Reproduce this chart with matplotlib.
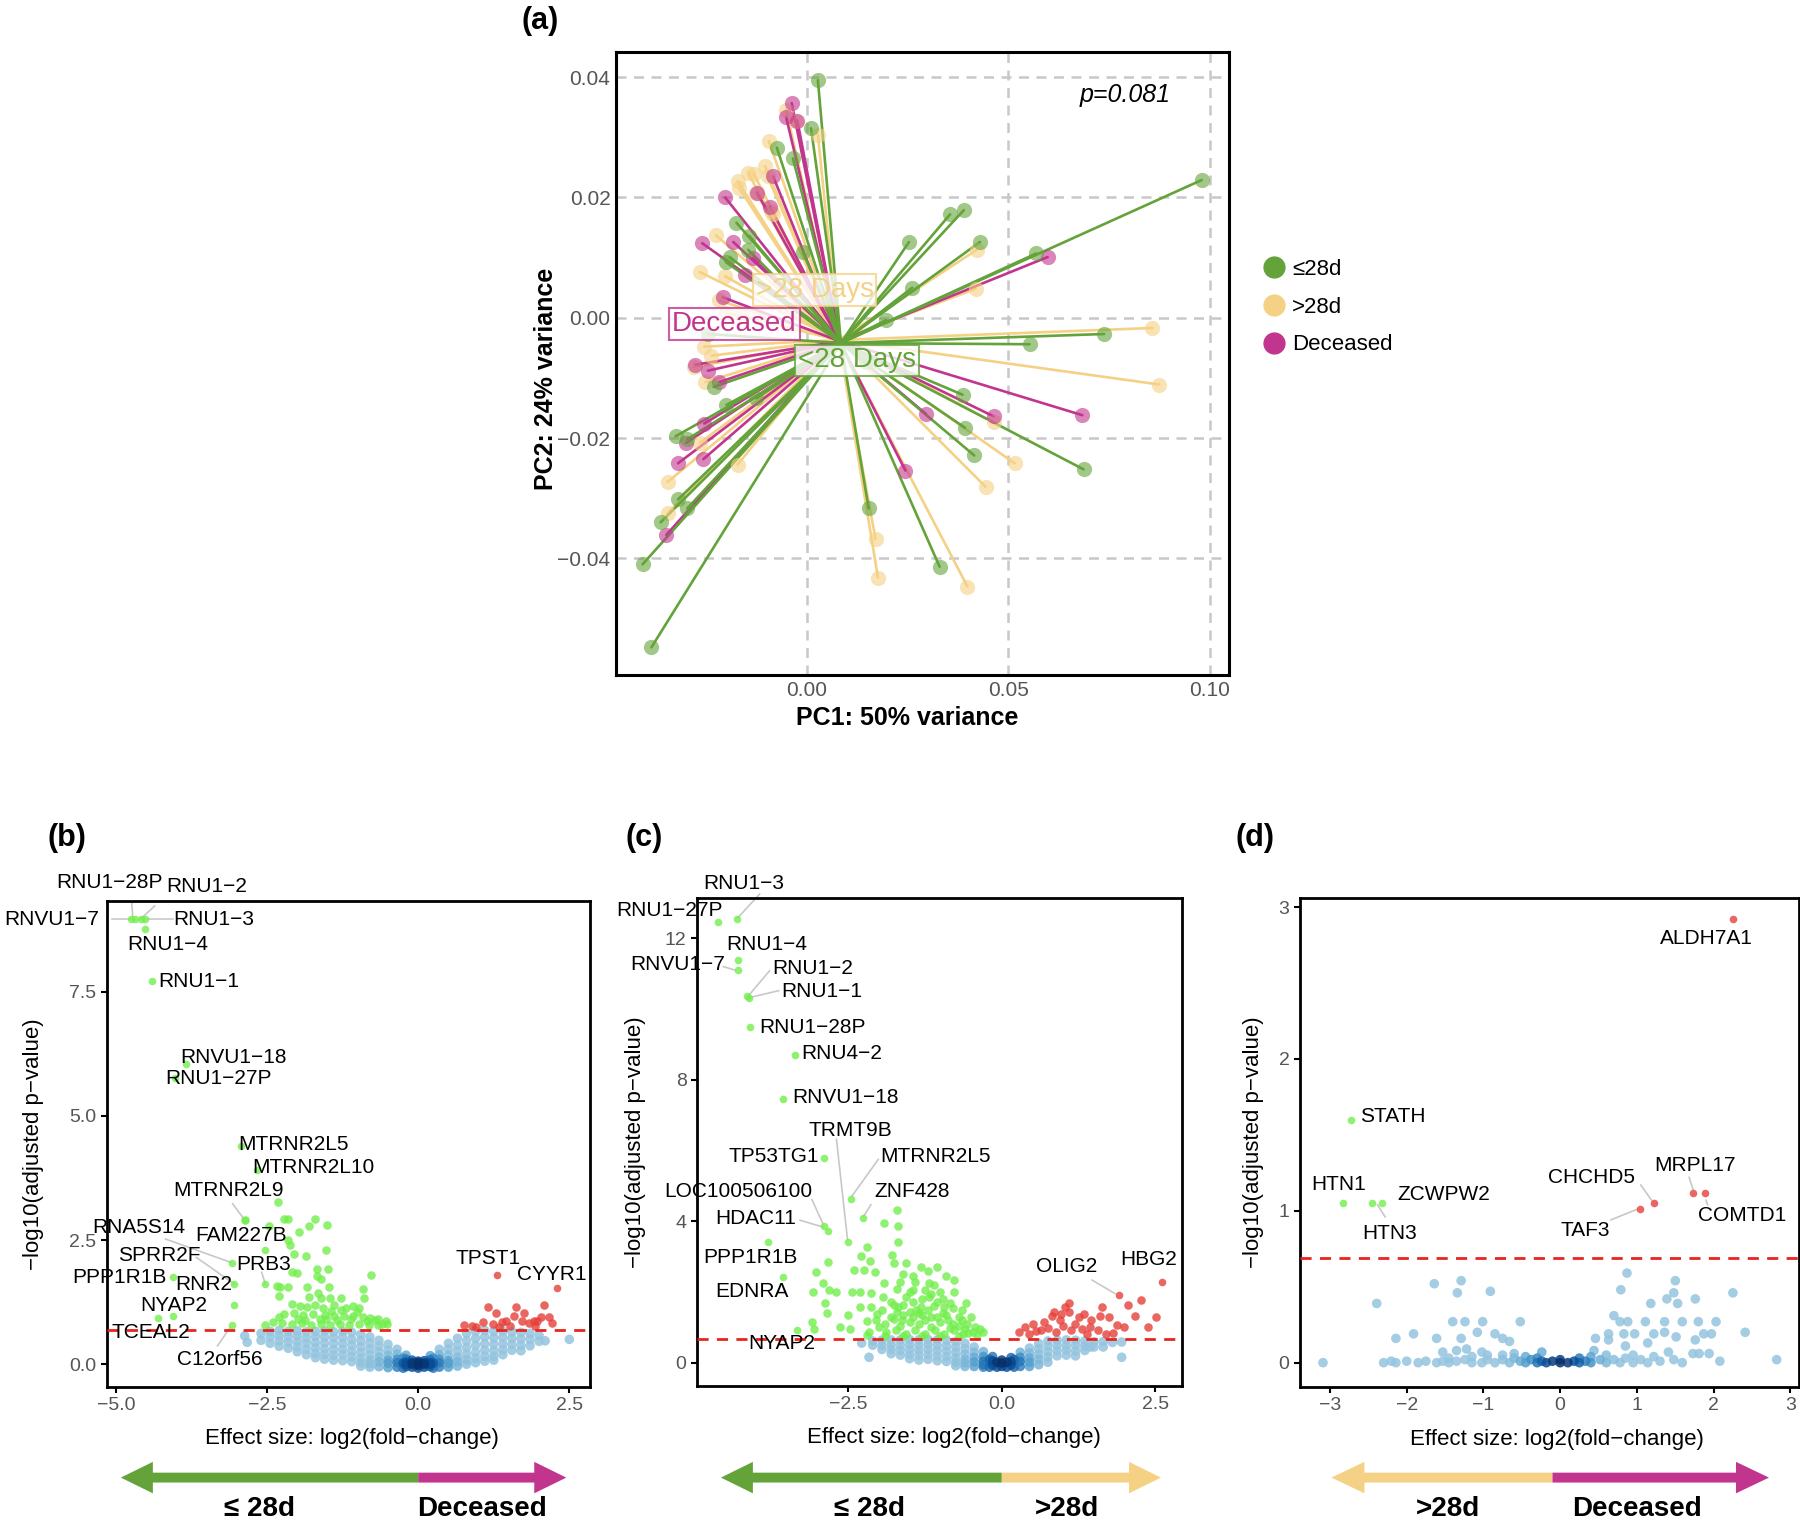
import numpy as np
import matplotlib
matplotlib.use("Agg")
import matplotlib.pyplot as plt
from matplotlib.patches import FancyArrow
from matplotlib.lines import Line2D

plt.rcParams['font.family'] = ['Liberation Sans', 'DejaVu Sans']

GREEN = '#63a33a'
YELLOW = '#f5d185'
MAGENTA = '#c2358e'
SIG_GREEN = '#72ee4c'
SIG_RED = '#e5403a'
GREY = '#555555'
M = '\u2212'

### (a) PCA data: samples per group, and group centroids
le28_x = [0.0028, 0.0011, -0.0074, -0.0034, -0.0174, -0.0142, -0.0145, -0.0191, -0.0199, -0.0009,
          0.0356, 0.0390, 0.0254, 0.0430, 0.0570, 0.0980, 0.0262, 0.0197, 0.0553, 0.0738,
          0.0387, 0.0393, 0.0416, 0.0687, 0.0330, 0.0154, -0.0407, -0.0385, -0.0362, -0.0319,
          -0.0296, -0.0325, -0.0296, -0.0231, -0.0199, -0.0125, -0.0245, 0.0148]
le28_y = [0.0395, 0.0315, 0.0283, 0.0265, 0.0158, 0.0136, 0.0113, 0.0101, 0.0092, 0.0109,
          0.0172, 0.0179, 0.0126, 0.0126, 0.0107, 0.0229, 0.0050, -0.0004, -0.0044, -0.0027,
          -0.0128, -0.0183, -0.0229, -0.0252, -0.0414, -0.0317, -0.0410, -0.0548, -0.0340, -0.0302,
          -0.0317, -0.0197, -0.0202, -0.0115, -0.0145, -0.0134, -0.0027, -0.0073]
gt28_x = [-0.0051, -0.0026, 0.0028, -0.0094, -0.0103, -0.0145, -0.0131, -0.0171, -0.0168, -0.0097,
          -0.0125, -0.0088, -0.0083, -0.0225, -0.0265, -0.0202, -0.0217, -0.0199, -0.0162, -0.0254,
          -0.0251, -0.0171, -0.0345, -0.0345, -0.0265, 0.0171, 0.0177, 0.0422, 0.0419, 0.0858,
          0.0875, 0.0464, 0.0516, 0.0444, 0.0399, -0.0279, -0.0236]
gt28_y = [0.0346, 0.0328, 0.0304, 0.0294, 0.0252, 0.0241, 0.0239, 0.0227, 0.0216, 0.0235,
          0.0208, 0.0178, 0.0172, 0.0137, 0.0076, 0.0069, 0.0029, 0.0008, 0.0004, -0.0048,
          -0.0107, -0.0244, -0.0273, -0.0325, -0.0208, -0.0368, -0.0432, 0.0113, 0.0048, -0.0017,
          -0.0111, -0.0174, -0.0242, -0.0281, -0.0447, -0.0082, -0.0063]
dec_x = [-0.0037, -0.0051, -0.0023, -0.0083, -0.0123, -0.0202, -0.0091, -0.0259, -0.0182, -0.0154,
         -0.0208, -0.0276, -0.0245, -0.0217, -0.0254, -0.0299, -0.0319, -0.0256, -0.0348, 0.0245,
         0.0598, 0.0684, 0.0464, 0.0296, -0.0134]
dec_y = [0.0357, 0.0334, 0.0328, 0.0235, 0.0208, 0.0200, 0.0185, 0.0124, 0.0126, 0.0071,
         0.0034, -0.0078, -0.0088, -0.0107, -0.0176, -0.0208, -0.0242, -0.0235, -0.0361, -0.0254,
         0.0101, -0.0162, -0.0164, -0.0160, 0.0099]
cent_x = [0.0085, 0.0080, 0.0082]   # <=28d, >28d, Deceased
cent_y = [-0.0042, -0.0037, -0.0039]
grp_names = ['\u226428d', '>28d', 'Deceased']
grp_tags = ['<28 Days', '>28 Days', 'Deceased']
tag_x = [0.0125, 0.0020, -0.0179]
tag_y = [-0.0071, 0.0046, -0.0010]

### (b) <=28d vs Deceased
b_ns_cx = [-2.87, -2.83, -2.6, -2.45, -2.3, -2.15, -2.0, -1.85, -1.7, -1.55, -1.4, -1.25, -1.1, -0.95,
           -0.8, -0.65, -0.5, -0.35, -0.25, -0.2, -0.1, 0.0, 0.1, 0.2, 0.25, 0.35, 0.5, 0.65, 0.8, 0.95,
           1.1, 1.25, 1.4, 1.55, 1.7, 1.85, 2.0, 2.1, 2.5]
b_ns_cy = [[0.57], [0.44], [0.62, 0.48], [0.66, 0.55, 0.42], [0.68, 0.58, 0.47, 0.36],
           [0.66, 0.55, 0.44, 0.32], [0.67, 0.57, 0.46, 0.35, 0.25], [0.65, 0.53, 0.42, 0.30, 0.19],
           [0.66, 0.56, 0.44, 0.33, 0.22, 0.13], [0.67, 0.55, 0.43, 0.31, 0.20, 0.10],
           [0.65, 0.53, 0.41, 0.29, 0.18, 0.08], [0.66, 0.54, 0.42, 0.30, 0.19, 0.07],
           [0.64, 0.50, 0.38, 0.26, 0.15, 0.05], [0.60, 0.47, 0.35, 0.23, 0.12, 0.03, -0.04],
           [0.55, 0.42, 0.30, 0.19, 0.08, 0.01, -0.06], [0.48, 0.36, 0.25, 0.14, 0.05, -0.05],
           [0.40, 0.28, 0.18, 0.08, 0.02, -0.07], [0.30, 0.20, 0.10, 0.03, -0.06], [0.12, 0.02, -0.08],
           [0.18, 0.10, 0.04, 0.0, -0.05], [0.08, 0.03, 0.0, -0.06], [0.0, 0.03, 0.06, -0.03, -0.08],
           [0.07, 0.02, 0.0, -0.06], [0.17, 0.09, 0.03, 0.0, -0.05], [0.12, 0.02, -0.08],
           [0.30, 0.19, 0.10, 0.03, -0.06], [0.42, 0.30, 0.18, 0.07, 0.02, -0.06],
           [0.52, 0.38, 0.26, 0.14, 0.05, -0.04], [0.62, 0.47, 0.33, 0.20, 0.09, 0.0],
           [0.66, 0.52, 0.38, 0.24, 0.12, 0.03], [0.68, 0.55, 0.41, 0.28, 0.16, 0.06],
           [0.66, 0.53, 0.40, 0.27, 0.16, 0.08], [0.67, 0.54, 0.41, 0.29, 0.19], [0.65, 0.52, 0.40, 0.28],
           [0.64, 0.51, 0.38, 0.27], [0.62, 0.50, 0.37], [0.58, 0.46], [0.47], [0.50]]
b_dn_x = [-2.87, -2.32, -2.47, -2.22, -2.15, -1.80, -1.70, -1.51, -1.97, -2.15, -2.12, -1.53, -2.06,
          -1.85, -1.68, -1.49, -2.08, -2.00, -1.68, -1.61, -0.78, -2.34, -2.28, -2.15, -1.84, -1.47,
          -0.92, -0.89, -2.31, -1.80, -1.65, -1.61, -1.46, -1.27, -2.09, -1.96, -1.84, -1.71, -1.58,
          -1.39, -1.20, -1.08, -0.98, -2.22, -2.06, -1.90, -1.74, -1.55, -1.39, -1.23, -1.08, -0.92,
          -0.79, -0.66, -0.54, -2.53, -2.41, -2.25, -2.09, -1.93, -1.77, -1.61, -1.46, -1.30, -1.14,
          -0.98, -0.82, -0.66, -0.51, -1.99, -1.52, -1.88, -1.62, -1.35, -1.12, -0.85, -0.72, -1.45,
          -1.28, -1.02, -0.60, -2.30]
b_dn_y = [2.91, 3.27, 2.79, 2.92, 2.92, 2.79, 2.92, 2.81, 2.67, 2.50, 2.40, 2.30, 2.22, 2.18, 1.92,
          1.92, 1.85, 1.83, 1.78, 1.71, 1.79, 1.58, 1.56, 1.55, 1.55, 1.56, 1.51, 1.34, 1.38, 1.36,
          1.44, 1.34, 1.34, 1.34, 1.21, 1.18, 1.16, 1.20, 1.14, 1.20, 1.14, 1.18, 1.14, 1.01, 1.04,
          0.99, 1.01, 0.99, 0.97, 0.96, 0.97, 0.94, 0.92, 0.91, 0.87, 0.79, 0.84, 0.82, 0.81, 0.82,
          0.79, 0.81, 0.79, 0.81, 0.79, 0.81, 0.79, 0.79, 0.81, 0.91, 0.91, 0.88, 0.90, 0.88, 0.90,
          0.86, 0.88, 1.08, 1.10, 1.05, 0.80, 0.95]
b_up_x = [1.15, 1.62, 2.08, 1.28, 1.59, 1.75, 1.91, 2.03, 2.17, 2.22, 0.75, 0.95, 1.08, 1.23, 1.39,
          1.52, 1.71, 1.84, 1.96, 0.89, 1.33, 1.93, 1.46]
b_up_y = [1.16, 1.16, 1.20, 1.03, 0.97, 1.04, 0.87, 0.95, 0.94, 0.83, 0.79, 0.74, 0.84, 0.81, 0.84,
          0.77, 0.87, 0.82, 0.86, 0.77, 0.74, 0.77, 0.87]
b_genes = ['RNU1\u221228P', 'RNVU1\u22127', 'RNU1\u22123', 'RNU1\u22122', 'RNU1\u22124', 'RNU1\u22121',
           'RNVU1\u221218', 'RNU1\u221227P', 'MTRNR2L5', 'MTRNR2L10', 'MTRNR2L9', 'RNA5S14', 'FAM227B',
           'SPRR2F', 'PRB3', 'PPP1R1B', 'RNR2', 'NYAP2', 'TCEAL2', 'C12orf56', 'TPST1', 'CYYR1']
b_gene_x = [-4.75, -4.68, -4.52, -4.58, -4.52, -4.41, -3.84, -4.03, -2.93, -2.66, -2.87, -3.08, -2.53,
            -3.04, -2.53, -4.05, -3.05, -4.05, -4.30, -3.08, 1.30, 2.29]
b_gene_y = [8.96, 8.96, 8.96, 8.96, 8.77, 7.71, 6.04, 5.76, 4.40, 3.91, 2.91, 2.04, 2.30, 1.61, 1.61,
            1.75, 1.19, 0.96, 0.93, 0.79, 1.79, 1.53]

### (c) <=28d vs >28d
c_ns_cx = [-2.28, -2.16, -2.1, -1.95, -1.8, -1.65, -1.5, -1.35, -1.2, -1.05, -0.9, -0.75, -0.6, -0.45,
           -0.3, -0.2, -0.15, -0.08, 0.0, 0.08, 0.15, 0.2, 0.3, 0.45, 0.6, 0.75, 0.9, 1.05, 1.2, 1.35,
           1.44, 1.5, 1.65, 1.8, 1.95]
c_ns_cy = [[0.56], [0.16], [0.62, 0.50], [0.64, 0.50, 0.38], [0.65, 0.52, 0.38, 0.26],
           [0.65, 0.50, 0.36, 0.22], [0.66, 0.52, 0.38, 0.24, 0.12], [0.65, 0.50, 0.36, 0.22, 0.08],
           [0.66, 0.52, 0.38, 0.24, 0.10], [0.65, 0.50, 0.35, 0.20, 0.06], [0.64, 0.48, 0.33, 0.18, 0.04],
           [0.60, 0.45, 0.30, 0.15, 0.02, -0.08], [0.55, 0.40, 0.25, 0.10, 0.0, -0.1],
           [0.45, 0.30, 0.16, 0.03, -0.1], [0.32, 0.18, 0.05, -0.05, -0.12], [0.1, -0.12],
           [0.18, 0.06, -0.06], [0.02, -0.12], [-0.10, 0.0, 0.08], [0.02, -0.12], [0.15, 0.04, -0.06],
           [0.1, -0.12], [0.30, 0.16, 0.04, -0.1], [0.42, 0.28, 0.14, 0.02, -0.1],
           [0.55, 0.40, 0.25, 0.10, -0.05], [0.62, 0.47, 0.32, 0.17, 0.02], [0.64, 0.50, 0.35, 0.20],
           [0.65, 0.50, 0.36, 0.22], [0.64, 0.50, 0.34, 0.20], [0.62, 0.48, 0.35], [0.45], [0.60, 0.45],
           [0.60, 0.45], [0.58], [0.16, 0.59]]
c_dn_x = [-1.70, -1.91, -1.69, -1.69, -2.20, -2.29, -2.14, -2.83, -3.02, -1.78, -1.75, -1.56, -1.31,
          -1.06, -2.41, -2.25, -2.06, -2.91, -2.81, -2.69, -3.08, -2.88, -2.84, -2.44, -2.31, -2.13,
          -1.91, -1.66, -1.41, -1.19, -0.78, -1.11, -0.78, -0.59, -2.50, -2.31, -3.09, -3.06, -2.63,
          -2.47, -2.19, -2.16, -1.94, -1.81, -1.69, -1.56, -1.44, -1.31, -1.19, -1.06, -0.94, -1.81,
          -1.63, -1.44, -1.25, -1.06, -0.88, -0.69, -0.56, -0.44, -0.31, -2.00, -1.88, -1.72, -1.56,
          -1.41, -1.25, -1.09, -0.94, -0.78, -0.63, -0.47, -1.44, -1.25, -2.13, -2.03, -1.50, -1.35,
          -1.20, -0.95, -0.80, -0.70, -1.65, -1.15, -1.35, -0.85, -1.70, -0.60, -2.20, -1.00, -1.60,
          -1.20, -0.90, -1.45, -0.40, -0.35, -1.90, -1.75, -1.60, -1.50, -1.40, -1.30, -1.15, -1.00,
          -0.90, -0.80, -0.65, -0.55, -0.70, -1.00, -1.30, -1.60, -1.90, -1.75, -1.60, -1.30, -1.10,
          -0.95, -0.85, -1.50, -1.70, -1.15, -0.65, -0.50, -2.05, -1.95]
c_dn_y = [4.33, 3.95, 3.86, 3.43, 3.29, 3.02, 2.88, 2.84, 2.58, 3.05, 2.82, 2.82, 2.72, 2.72, 2.63,
          2.63, 2.58, 2.27, 2.06, 2.01, 2.01, 1.68, 1.41, 2.01, 2.01, 1.98, 2.25, 2.29, 2.29, 2.25,
          2.34, 2.20, 2.01, 1.68, 1.35, 1.58, 1.16, 0.97, 1.01, 0.95, 1.18, 0.87, 1.87, 1.73, 1.58,
          1.87, 1.73, 1.58, 1.87, 1.73, 1.58, 1.30, 1.20, 1.30, 1.20, 1.30, 1.20, 1.30, 1.11, 1.01,
          0.87, 1.01, 0.87, 0.92, 0.82, 0.92, 0.82, 0.92, 0.82, 0.92, 0.82, 0.87, 2.06, 2.06, 1.58,
          1.39, 1.45, 1.40, 1.50, 1.42, 1.55, 1.05, 1.05, 1.02, 1.10, 1.00, 1.45, 0.95, 0.80, 2.00,
          2.50, 2.60, 2.45, 2.45, 0.80, 0.95, 1.10, 1.25, 1.35, 1.15, 1.50, 1.35, 1.30, 1.15,
          1.35, 1.10, 1.20, 0.85, 0.75, 0.75, 0.75, 0.75, 0.75, 1.65, 1.65, 1.80, 1.60,
          1.80, 1.70, 2.00, 2.10, 1.95, 1.50, 1.30, 1.20, 1.50]
c_up_x = [2.27, 2.06, 2.16, 2.51, 2.38, 1.99, 1.88, 1.63, 1.75, 1.59, 1.34, 1.09, 1.03, 0.81, 0.69,
          0.50, 0.38, 0.28, 0.94, 1.19, 1.44, 0.63, 0.88, 1.13, 1.38, 1.56, 1.69, 1.81, 0.44, 1.25,
          0.97, 0.75, 1.00, 0.55, 1.30, 1.10, 0.85, 1.45]
c_up_y = [1.77, 1.63, 1.32, 1.30, 1.01, 1.01, 1.06, 1.58, 1.30, 1.33, 1.37, 1.68, 1.58, 1.33, 1.16,
          1.11, 1.01, 0.87, 1.20, 1.11, 1.01, 0.92, 0.87, 0.92, 0.82, 0.92, 0.82, 0.84, 0.82, 1.30,
          1.37, 1.00, 1.05, 0.90, 0.95, 1.45, 1.45, 1.20]
c_genes = ['RNU1\u221227P', 'RNU1\u22123', 'RNU1\u22124', 'RNVU1\u22127', 'RNU1\u22122', 'RNU1\u22121',
           'RNU1\u221228P', 'RNU4\u22122', 'RNVU1\u221218', 'TP53TG1', 'MTRNR2L5', 'ZNF428',
           'LOC100506100', 'HDAC11', 'TRMT9B', 'PPP1R1B', 'EDNRA', 'NYAP2', 'OLIG2', 'HBG2']
c_gene_x = [-4.61, -4.31, -4.30, -4.30, -4.15, -4.12, -4.09, -3.36, -3.56, -2.89, -2.46, -2.26,
            -2.89, -2.83, -2.51, -3.80, -3.56, -3.33, 1.91, 2.61]
c_gene_y = [12.47, 12.55, 11.40, 11.10, 10.38, 10.32, 9.50, 8.71, 7.47, 5.78, 4.64, 4.09, 3.88,
            3.74, 3.43, 3.43, 2.42, 0.92, 1.91, 2.28]

### (d) >28d vs Deceased
d_ns_cx = [-3.09, -2.39, -2.3, -2.2, -2.14, -2.0, -1.91, -1.85, -1.75, -1.64, -1.61, -1.53, -1.45,
           -1.40, -1.35, -1.34, -1.29, -1.24, -1.22, -1.15, -1.08, -1.02, -1.01, -0.95, -0.91, -0.85,
           -0.75, -0.66, -0.6, -0.52, -0.45, -0.38, -0.3, -0.24, -0.18, -0.1, 0.0, 0.1, 0.18, 0.25,
           0.33, 0.4, 0.44, 0.46, 0.52, 0.6, 0.63, 0.70, 0.78, 0.79, 0.83, 0.85, 0.87, 0.88, 0.95,
           0.97, 1.05, 1.11, 1.14, 1.18, 1.22, 1.3, 1.36, 1.39, 1.41, 1.48, 1.50, 1.51, 1.53, 1.59,
           1.73, 1.76, 1.80, 1.81, 1.87, 1.94, 1.97, 2.03, 2.08, 2.25, 2.41, 2.82]
d_ns_cy = [[0.0], [0.39], [0.0], [0.01], [0.16, 0.0], [0.01], [0.19], [0.0], [0.01], [0.52],
           [0.16, 0.0], [0.07, 0.01], [0.0, 0.03], [0.27], [0.08, 0.01], [0.46], [0.54, 0.16],
           [0.27, 0.02], [0.09], [0.0, 0.04], [0.20], [0.07, 0.0], [0.27], [0.02, 0.05], [0.47],
           [0.19, 0.0], [0.16, 0.02, 0.05], [0.14, 0.0], [0.03, 0.06], [0.27, 0.01], [0.04, 0.0],
           [0.02], [0.0, 0.03], [0.07, 0.01], [0.0], [0.01], [0.0, 0.02], [0.0], [0.01], [0.0, 0.03],
           [0.01], [0.0, 0.04], [0.08], [0.16], [0.02], [0.0, 0.05], [0.19, 0.15], [0.31, 0.02],
           [0.27, 0.0], [0.48], [0.19], [0.11, 0.03], [0.59], [0.27], [0.0, 0.05], [0.19], [0.02],
           [0.27], [0.13, 0.0], [0.39], [0.19, 0.04], [0.01], [0.27, 0.20], [0.42], [0.07],
           [0.46, 0.02], [0.54], [0.17], [0.39], [0.27, 0.0], [0.06], [0.42, 0.15], [0.27], [0.06],
           [0.19], [0.06], [0.19], [0.27], [0.01], [0.46], [0.20], [0.02]]
d_genes = ['ALDH7A1', 'STATH', 'HTN1', 'HTN3', 'ZCWPW2', 'CHCHD5', 'TAF3', 'MRPL17', 'COMTD1']
d_gene_x = [2.25, -2.73, -2.83, -2.45, -2.32, 1.22, 1.04, 1.73, 1.89]
d_gene_y = [2.92, 1.60, 1.05, 1.05, 1.05, 1.05, 1.01, 1.12, 1.12]

fig = plt.figure(figsize=(18, 15.24), dpi=100)

##### (a) PCA
ax = fig.add_axes([0.3422, 0.5571, 0.3406, 0.4088])
groups = [(gt28_x, gt28_y, 1, YELLOW), (dec_x, dec_y, 2, MAGENTA), (le28_x, le28_y, 0, GREEN)]
for xs, ys, g, col in groups:
    for x, y in zip(xs, ys):
        ax.plot([cent_x[g], x], [cent_y[g], y], color=col, lw=1.9, zorder=2, solid_capstyle='round')
for xs, ys, g, col in groups:
    ax.scatter(xs, ys, s=120, color=col, alpha=0.6, lw=0, zorder=3)
tag_cols = [GREEN, YELLOW, MAGENTA]
for i in range(3):
    ax.text(tag_x[i], tag_y[i], grp_tags[i], color=tag_cols[i], fontsize=20, ha='center', va='center',
            zorder=5, bbox=dict(boxstyle='square,pad=0.1', fc='white', ec=tag_cols[i], alpha=0.8, lw=1.5))
ax.text(0.0789, 0.037, 'p=0.081', fontsize=18, style='italic', ha='center', va='center')
ax.set_xlim(-0.0473, 0.1048)
ax.set_ylim(-0.0594, 0.0442)
ax.set_xticks([0.0, 0.05, 0.10])
ax.set_yticks([-0.04, -0.02, 0.0, 0.02, 0.04])
ax.grid(True, color='#c8c8c8', ls=(0, (4, 3)), lw=1.8, zorder=0)
ax.tick_params(length=0, labelsize=15, labelcolor=GREY, pad=4)
for s in ax.spines.values():
    s.set_linewidth(2.2)
ax.set_xlabel('PC1: 50% variance', fontsize=18, fontweight='bold')
ax.set_ylabel('PC2: 24% variance', fontsize=18, fontweight='bold')
ax.xaxis.set_label_coords(0.475, -0.05)
ax.yaxis.set_label_coords(-0.095, 0.475)

handles = [Line2D([], [], marker='o', ls='', ms=15, color=c) for c in [GREEN, YELLOW, MAGENTA]]
fig.legend(handles, grp_names, loc='upper left', bbox_to_anchor=(0.7017, 0.830), frameon=False,
           fontsize=16, handlelength=1.0, handletextpad=0.3, labelspacing=0.75, borderpad=0,
           borderaxespad=0)


def volcano(ax, ns_cx, ns_cy, dn_x, dn_y, up_x, up_y, genes, gx, gy, wx, wy):
    nx = np.concatenate([[x] * len(ys) for x, ys in zip(ns_cx, ns_cy)])
    ny = np.concatenate(ns_cy)
    t = np.exp(-((nx / wx) ** 2 + (ny / wy) ** 2))
    order = np.argsort(t)
    ax.scatter(nx[order], ny[order], s=48, c=plt.cm.Blues(0.40 + 0.60 * t[order]), alpha=0.85, lw=0, zorder=2)
    ax.scatter(dn_x, dn_y, s=38, color=SIG_GREEN, alpha=0.8, lw=0, zorder=3)
    ax.scatter(up_x, up_y, s=38, color=SIG_RED, alpha=0.8, lw=0, zorder=3)
    gx = np.array(gx)
    gy = np.array(gy)
    ax.scatter(gx[gx < 0], gy[gx < 0], s=30, color=SIG_GREEN, alpha=0.8, lw=0, zorder=3)
    ax.scatter(gx[gx > 0], gy[gx > 0], s=30, color=SIG_RED, alpha=0.8, lw=0, zorder=3)
    ax.axhline(0.69, color='#e8251f', ls=(0, (4, 3)), lw=2, zorder=4)
    ax.tick_params(labelsize=14, labelcolor=GREY, length=4, width=1.5, color='black')
    for s in ax.spines.values():
        s.set_linewidth(2)
    ax.set_xlabel('Effect size: log2(fold' + M + 'change)', fontsize=16)
    ax.set_ylabel(M + 'log10(adjusted p' + M + 'value)', fontsize=16)


def labels(ax, names, lx, ly, segs):
    for n, x, y in zip(names, lx, ly):
        ax.text(x, y, n, fontsize=15, ha='center', va='center', zorder=6)
    for x0, y0, x1, y1 in segs:
        ax.plot([x0, x1], [y0, y1], color='#c8c8c8', lw=1.2, zorder=1, clip_on=False)


def arrow(rect, xlim, left, mid, right, lcol, rcol, hl, ltxt, lx, rtxt, rx):
    a = fig.add_axes(rect)
    a.set_xlim(*xlim)
    a.set_ylim(0, 1)
    a.axis('off')
    a.add_patch(FancyArrow(mid, 0.5, left - mid, 0, width=0.22, head_width=0.7, head_length=hl,
                           length_includes_head=True, color=lcol, lw=0, clip_on=False))
    a.add_patch(FancyArrow(mid, 0.5, right - mid, 0, width=0.22, head_width=0.7, head_length=hl,
                           length_includes_head=True, color=rcol, lw=0, clip_on=False))
    a.text(lx, -0.2, ltxt, fontsize=20, fontweight='bold', ha='center', va='center')
    a.text(rx, -0.2, rtxt, fontsize=20, fontweight='bold', ha='center', va='center')


##### (b)
axb = fig.add_axes([0.0594, 0.0899, 0.2683, 0.3189])
volcano(axb, b_ns_cx, b_ns_cy, b_dn_x, b_dn_y, b_up_x, b_up_y, b_genes, b_gene_x, b_gene_y, 0.45, 0.15)
axb.set_xlim(-5.15, 2.84)
axb.set_ylim(-0.46, 9.33)
axb.set_xticks([-5.0, -2.5, 0.0, 2.5])
axb.set_yticks([0.0, 2.5, 5.0, 7.5])
axb.xaxis.set_label_coords(0.507, -0.085)
axb.yaxis.set_label_coords(-0.13, 0.5)
labels(axb, b_genes,
       [-5.11, -6.06, -3.38, -3.50, -4.14, -3.63, -3.06, -3.30, -2.07, -1.74, -3.14, -4.62, -2.93,
        -4.28, -2.55, -4.94, -3.54, -4.05, -4.43, -3.29, 1.16, 2.21],
       [9.70, 8.96, 8.96, 9.63, 8.45, 7.71, 6.18, 5.76, 4.42, 3.96, 3.50, 2.75, 2.59, 2.18, 2.01,
        1.74, 1.60, 1.18, 0.63, 0.09, 2.13, 1.81],
       [(-4.74, 9.30, -4.72, 8.96), (-4.36, 9.23, -4.60, 8.96), (-5.06, 8.96, -4.77, 8.96),
        (-4.47, 8.96, -4.06, 8.96), (-3.07, 3.23, -2.88, 2.92), (-4.18, 2.52, -3.10, 2.05),
        (-3.67, 2.15, -3.05, 1.62), (-2.59, 1.85, -2.53, 1.62), (-3.32, 0.37, -3.11, 0.74)])
fig.text(0.037, 0.450, '(b)', fontsize=22, fontweight='bold', ha='center', va='center')
arrow([0.0594, 0.0157, 0.2683, 0.0295], (-5.15, 2.84), -4.92, 0.0, 2.45, GREEN, MAGENTA, 0.53,
      '\u2264 28d', -2.62, 'Deceased', 1.06)

##### (c)
axc = fig.add_axes([0.3872, 0.0906, 0.2694, 0.3202])
volcano(axc, c_ns_cx, c_ns_cy, c_dn_x, c_dn_y, c_up_x, c_up_y, c_genes, c_gene_x, c_gene_y, 0.4, 0.25)
axc.set_xlim(-4.96, 2.93)
axc.set_ylim(-0.65, 13.14)
axc.set_xticks([-2.5, 0.0, 2.5])
axc.set_yticks([0, 4, 8, 12])
axc.xaxis.set_label_coords(0.53, -0.085)
axc.yaxis.set_label_coords(-0.105, 0.5)
labels(axc, c_genes,
       [-5.41, -4.20, -3.82, -5.28, -3.08, -2.93, -3.08, -2.61, -2.54, -3.71, -1.08, -1.46, -4.29,
        -4.01, -2.46, -4.09, -4.07, -3.58, 1.06, 2.39],
       [12.79, 13.54, 11.82, 11.27, 11.14, 10.49, 9.48, 8.73, 7.50, 5.84, 5.84, 4.84, 4.84, 4.09,
        6.56, 2.99, 2.01, 0.55, 2.73, 2.92],
       [(-3.94, 13.25, -4.30, 12.57), (-4.53, 11.20, -4.34, 11.10), (-3.78, 11.08, -4.12, 10.38),
        (-3.63, 10.52, -4.09, 10.33), (-2.69, 6.32, -2.51, 3.48), (-2.01, 5.75, -2.44, 4.71),
        (-2.13, 4.47, -2.25, 4.14), (-3.09, 4.62, -2.91, 3.93), (-3.28, 4.03, -2.91, 3.84),
        (1.47, 2.34, 1.84, 1.96)])
fig.text(0.358, 0.450, '(c)', fontsize=22, fontweight='bold', ha='center', va='center')
arrow([0.3872, 0.0157, 0.2694, 0.0295], (-4.96, 2.93), -4.57, 0.0, 2.59, GREEN, YELLOW, 0.52,
      '\u2264 28d', -2.16, '>28d', 1.06)

##### (d)
axd = fig.add_axes([0.7222, 0.0899, 0.2772, 0.3209])
volcano(axd, d_ns_cx, d_ns_cy, [], [], [], [], d_genes, d_gene_x, d_gene_y, 0.4, 0.06)
axd.set_xlim(-3.39, 3.11)
axd.set_ylim(-0.16, 3.06)
axd.set_xticks([-3, -2, -1, 0, 1, 2, 3])
axd.set_yticks([0, 1, 2, 3])
axd.xaxis.set_label_coords(0.515, -0.085)
axd.yaxis.set_label_coords(-0.072, 0.5)
labels(axd, d_genes,
       [1.91, -2.18, -2.89, -2.22, -1.52, 0.41, 0.33, 1.76, 2.37],
       [2.79, 1.62, 1.17, 0.85, 1.11, 1.22, 0.87, 1.30, 0.97],
       [(-2.28, 0.96, -2.38, 1.04), (1.05, 1.17, 1.19, 1.07), (0.66, 0.94, 1.00, 1.01),
        (1.68, 1.22, 1.73, 1.14), (1.90, 1.07, 1.92, 1.04)])
fig.text(0.697, 0.450, '(d)', fontsize=22, fontweight='bold', ha='center', va='center')
arrow([0.7222, 0.0157, 0.2772, 0.0295], (-3.39, 3.11), -2.98, -0.1, 2.72, YELLOW, MAGENTA, 0.43,
      '>28d', -1.46, 'Deceased', 1.0)

fig.text(0.300, 0.986, '(a)', fontsize=22, fontweight='bold', ha='center', va='center')

fig.savefig('out.png', dpi=100)
